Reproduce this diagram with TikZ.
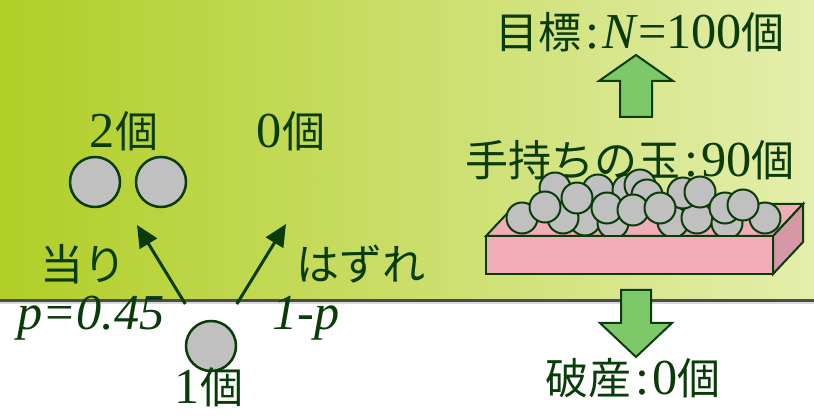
\documentclass[tikz,border=0pt]{standalone}
\usepackage{fontspec}
\setmainfont{Liberation Serif}[Scale=1.17]
\newfontfamily\jp{Noto Sans CJK JP}
\usepackage{tikz}
\usetikzlibrary{arrows.meta,positioning}

\definecolor{txtgreen}{RGB}{10,60,10}
\definecolor{bgleft}{RGB}{176,206,38}
\definecolor{bgright}{RGB}{228,238,172}
\definecolor{ballgray}{RGB}{192,192,192}
\definecolor{arrowgreen}{RGB}{125,200,105}
\definecolor{boxpink}{RGB}{240,172,184}
\definecolor{boxside}{RGB}{214,152,166}

\newcommand{\colsep}{\hspace{4pt}:\hspace{3pt}}

\tikzset{
	txt/.style={text=txtgreen,font=\fontsize{43}{46}\selectfont,inner sep=0pt},
	ball/.style={circle,draw=txtgreen,line width=2.5pt,fill=ballgray,minimum size=50pt,inner sep=0pt},
	pileball/.style={draw=txtgreen,line width=2pt,fill=ballgray},
	choice/.style={-{Triangle[length=22pt,width=20pt]},line width=3pt,draw=txtgreen,shorten <=23pt},
	blockarrow/.style={draw=txtgreen,line width=2pt,fill=arrowgreen,line join=miter},
}

\begin{document}
\begin{tikzpicture}[x=1pt,y=-1pt]
	\useasboundingbox (0,0) rectangle (814,419);
	\fill[white] (0,0) rectangle (814,419);
	\shade[left color=bgleft,right color=bgright] (0,0) rectangle (814,300);
	\draw[line width=1.5pt,gray!30] (0,303) -- (814,303);
	\draw[line width=2.5pt,black!70] (0,300.5) -- (814,300.5);

	% one step of the game: start with one ball
	\node[ball] (one) at (211,346) {};
	\node[ball] (twoA) at (95,182) {};
	\node[ball] (twoB) at (161,182) {};
	\node[ball,draw=white!25!bgleft,line width=0.6pt,fill=none] (none) at (295,182) {};

	\node[txt,text depth=0pt,anchor=base] (oneLbl) at (209,404) {1{\jp 個}};
	\node[txt] (twoLbl) at (124,131) {2{\jp 個}};
	\node[txt] (noneLbl) at (291,131) {0{\jp 個}};
	\node[txt] (hit) at (83,264) {\jp 当り};
	\node[txt] (miss) at (361,264) {\jp はずれ};
	\node[txt] (prob) at (91,318) {\textit{p=0.45}};
	\node[txt] (probMiss) at (306,318) {\textit{1-p}};

	\coordinate (hitTip) at (137,225);
	\coordinate (missTip) at (286,224);
	\draw[choice] (one) -- (hitTip);
	\draw[choice] (one) -- (missTip);

	% goal, current stock and ruin
	\node[txt] (goal) at (640,32) {{\jp 目標}\colsep\textit{N}=100{\jp 個}};
	\node[txt] (hand) at (630,160) {{\jp 手持ちの玉}\colsep 90{\jp 個}};
	\node[txt] (ruin) at (633,378) {{\jp 破産}\colsep 0{\jp 個}};

	\draw[blockarrow,shift={(636,117)}] (-16,0) -- (-16,-36) -- (-37,-36) -- (0,-62)
		-- (37,-36) -- (16,-36) -- (16,0) -- cycle;
	\draw[blockarrow,shift={(636,290)}] (-15,0) -- (-15,33) -- (-36,33) -- (0,67)
		-- (36,33) -- (15,33) -- (15,0) -- cycle;

	% tray with the balls
	\draw[pileball,fill=boxpink] (486,236) -- (516,204) -- (803,204) -- (773,236) -- cycle;
	\foreach \x/\y in {585/220,613/223,673/222,697/218,727/223,563/218,522/218,765/218,
		555/188,598/190,628/190,640/185,
		577/198,647/195,683/193,700/192,
		545/207,607/208,633/210,660/208,725/208,743/205}
		\draw[pileball] (\x,\y) circle (15.5);
	\draw[pileball,fill=boxpink] (486,236) rectangle (773,274);
	\draw[pileball,fill=boxside] (773,236) -- (803,204) -- (803,242) -- (773,274) -- cycle;
\end{tikzpicture}
\end{document}
